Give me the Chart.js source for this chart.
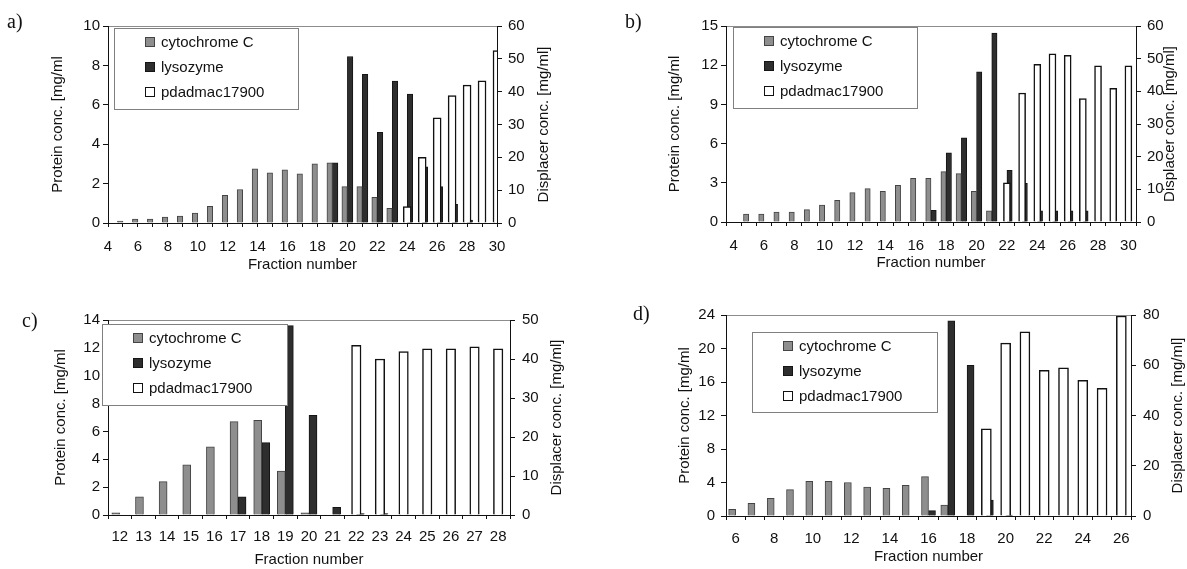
<!DOCTYPE html>
<html>
<head>
<meta charset="utf-8">
<script src="https://cdn.jsdelivr.net/npm/chart.js@4.4.1/dist/chart.umd.min.js"></script>
<style>
  html, body { margin: 0; padding: 0; background: #fff; }
  #wrap { position: relative; width: 1187px; height: 569px; overflow: hidden; }
  canvas { position: absolute; left: 0; top: 0; }
  .tag { position: absolute; font-family: "Liberation Serif", "Times New Roman", serif; font-size: 20px; line-height: 1; color: #111; }
</style>
</head>
<body>
<div id="wrap">
  <canvas id="chartA" width="1187" height="569"></canvas>
  <canvas id="chartB" width="1187" height="569"></canvas>
  <canvas id="chartC" width="1187" height="569"></canvas>
  <canvas id="chartD" width="1187" height="569"></canvas>
  <div class="tag" style="left:7px;top:11px">a)</div>
  <div class="tag" style="left:625px;top:11px">b)</div>
  <div class="tag" style="left:22px;top:310px">c)</div>
  <div class="tag" style="left:633px;top:303px">d)</div>
</div>
<script>
// panel a)
var fractionsA = [4, 5, 6, 7, 8, 9, 10, 11, 12, 13, 14, 15, 16, 17, 18, 19, 20, 21, 22, 23, 24, 25, 26, 27, 28, 29, 30]
var cytA = [null, 0.1, 0.2, 0.2, 0.3, 0.35, 0.5, 0.85, 1.4, 1.7, 2.75, 2.55, 2.7, 2.5, 3.0, 3.05, 1.85, 1.85, 1.3, 0.75, null, null, null, null, null, null, null]
var lysA = [null, null, null, null, null, null, null, null, null, null, null, null, null, null, null, 3.05, 8.45, 7.55, 4.6, 7.2, 6.55, 2.85, 1.85, 0.95, 0.15, null, null]
var pdaA = [null, null, null, null, null, null, null, null, null, null, null, null, null, null, null, null, null, null, null, null, 5, 20, 32, 38.8, 42, 43.3, 52.5]

// panel b)
var fractionsB = [4, 5, 6, 7, 8, 9, 10, 11, 12, 13, 14, 15, 16, 17, 18, 19, 20, 21, 22, 23, 24, 25, 26, 27, 28, 29, 30]
var cytB = [null, 0.6, 0.6, 0.75, 0.75, 0.95, 1.3, 1.65, 2.25, 2.55, 2.35, 2.8, 3.35, 3.35, 3.85, 3.7, 2.35, 0.85, null, null, null, null, null, null, null, null, null]
var lysB = [null, null, null, null, null, null, null, null, null, null, null, null, null, 0.9, 5.3, 6.45, 11.5, 14.45, 3.95, 2.95, 0.85, 0.85, 0.85, 0.85, null, null, null]
var pdaB = [null, null, null, null, null, null, null, null, null, null, null, null, null, null, null, null, null, null, 12, 39.5, 48.3, 51.5, 51, 37.8, 47.8, 40.9, 47.8]

// panel c)
var fractionsC = [12, 13, 14, 15, 16, 17, 18, 19, 20, 21, 22, 23, 24, 25, 26, 27, 28]
var cytC = [0.15, 1.3, 2.4, 3.6, 4.9, 6.7, 6.8, 3.15, 0.15, null, null, null, null, null, null, null, null]
var lysC = [null, null, null, null, null, 1.3, 5.2, 13.6, 7.15, 0.55, 0.1, 0.1, null, null, null, null, null]
var pdaC = [null, null, null, null, null, null, null, null, null, null, 43.5, 40, 41.9, 42.6, 42.6, 43.1, 42.6]

// panel d)
var fractionsD = [6, 7, 8, 9, 10, 11, 12, 13, 14, 15, 16, 17, 18, 19, 20, 21, 22, 23, 24, 25, 26]
var cytD = [0.8, 1.5, 2.1, 3.15, 4.15, 4.15, 4.0, 3.45, 3.3, 3.65, 4.7, 1.3, null, null, null, null, null, null, null, null, null]
var lysD = [null, null, null, null, null, null, null, null, null, null, 0.65, 23.3, 18.0, 1.9, 0.1, null, null, null, null, null, null]
var pdaD = [null, null, null, null, null, null, null, null, null, null, null, null, null, 34.7, 68.8, 73.3, 58, 59, 54, 50.8, 79.6]

Chart.defaults.font.family = '"Liberation Sans", Arial, sans-serif'
Chart.defaults.font.size = 15
Chart.defaults.color = '#111'

// plot frame, boxed legend inside the plot, right axis title reading upwards
const decor = {
  id: 'decor',
  beforeDraw(chart, args, o) {
    const a = chart.chartArea, ctx = chart.ctx
    ctx.save()
    ctx.strokeStyle = '#8c8c8c'
    ctx.lineWidth = 1
    ctx.strokeRect(Math.round(a.left) + 0.5, Math.round(a.top) + 0.5, Math.round(a.right - a.left), Math.round(a.bottom - a.top))
    ctx.restore()
  },
  afterDatasetsDraw(chart, args, o) {
    const ctx = chart.ctx, b = o.box
    ctx.save()
    ctx.fillStyle = '#fff'
    ctx.fillRect(b.x, b.y, b.w, b.h)
    ctx.strokeStyle = '#808080'
    ctx.lineWidth = 1
    ctx.strokeRect(b.x + 0.5, b.y + 0.5, b.w, b.h)
    ctx.font = '15px "Liberation Sans", Arial, sans-serif'
    ctx.textBaseline = 'middle'
    chart.data.datasets.forEach((ds, i) => {
      const cy = b.y + 14 + i * 25
      ctx.fillStyle = ds.backgroundColor
      ctx.fillRect(b.x + 31, cy - 5, 10, 10)
      ctx.strokeStyle = ds.borderColor
      ctx.strokeRect(b.x + 31.5, cy - 4.5, 9, 9)
      ctx.fillStyle = '#111'
      ctx.fillText(ds.label, b.x + 47, cy + 1)
    })
    ctx.restore()
  },
  afterDraw(chart, args, o) {
    const a = chart.chartArea, ctx = chart.ctx
    ctx.save()
    ctx.translate(o.titleX, (a.top + a.bottom) / 2)
    ctx.rotate(-Math.PI / 2)
    ctx.font = '15px "Liberation Sans", Arial, sans-serif'
    ctx.fillStyle = '#111'
    ctx.textAlign = 'center'
    ctx.textBaseline = 'middle'
    ctx.fillText('Displacer conc. [mg/ml]', 0, 0)
    ctx.restore()
  }
}

function panel(id, labels, cyt, lys, pda, o) {
  const evenOnly = function(v) {
    const l = this.getLabelForValue(v)
    return (o.every2 && l % 2 !== 0) ? '' : l
  }
  return new Chart(document.getElementById(id), {
    type: 'bar',
    data: {
      labels: labels,
      datasets: [
        { label: 'cytochrome C', data: cyt, yAxisID: 'y', backgroundColor: '#8e8e8e', borderColor: '#444444', borderWidth: 1, barThickness: o.bar, order: 1, clip: 0 },
        { label: 'lysozyme', data: lys, yAxisID: 'y', backgroundColor: '#2e2e2e', borderColor: '#151515', borderWidth: 1, barThickness: o.bar, order: 2, clip: 0 },
        { label: 'pdadmac17900', data: pda, yAxisID: 'y2', backgroundColor: '#ffffff', borderColor: '#111111', borderWidth: 1.5, barThickness: o.wide, grouped: false, order: 0, clip: 0 }
      ]
    },
    options: {
      responsive: false,
      animation: false,
      events: [],
      layout: { padding: o.pad },
      plugins: {
        legend: { display: false },
        tooltip: { enabled: false },
        decor: { box: o.box, titleX: o.titleX }
      },
      scales: {
        x: {
          type: 'category',
          offset: o.offset,
          grid: { offset: o.offset, drawOnChartArea: false, tickLength: 4, color: '#111' },
          border: { color: '#111' },
          ticks: { autoSkip: false, maxRotation: 0, padding: o.xPad, callback: evenOnly },
          title: { display: true, text: 'Fraction number', padding: { top: 0, bottom: o.xTitlePad } },
          afterFit: s => { s.height = o.xH }
        },
        y: {
          position: 'left',
          min: 0, max: o.yMax,
          ticks: { stepSize: o.yStep, padding: o.yPad },
          grid: { drawOnChartArea: false, tickLength: 5, color: '#111' },
          border: { color: '#111' },
          title: { display: true, text: 'Protein conc. [mg/ml', padding: { top: o.yTitlePad, bottom: 0 } },
          afterFit: s => { s.width = o.yW }
        },
        y2: {
          position: 'right',
          min: 0, max: o.y2Max,
          ticks: { stepSize: o.y2Step, padding: o.y2Pad },
          grid: { drawOnChartArea: false, tickLength: 5, color: '#111' },
          border: { color: '#111' },
          afterFit: s => { s.width = o.y2W }
        }
      }
    },
    plugins: [decor]
  })
}

panel('chartA', fractionsA, cytA, lysA, pdaA, {
  every2: true, offset: false, bar: 5.5, wide: 8,
  pad: { left: 40, right: 635, top: 26, bottom: 293 },
  yW: 68, yTitlePad: 9, yPad: 3, yMax: 10, yStep: 2,
  y2W: 55, y2Pad: 6, y2Max: 60, y2Step: 10, titleX: 544,
  xH: 53, xPad: 11, xTitlePad: 2,
  box: { x: 114, y: 28, w: 184, h: 81 }
})

panel('chartB', fractionsB, cytB, lysB, pdaB, {
  every2: true, offset: true, bar: 5.3, wide: 7,
  pad: { left: 660, right: 6, top: 26, bottom: 295 },
  yW: 66, yTitlePad: 6, yPad: 3, yMax: 15, yStep: 3,
  y2W: 45, y2Pad: 6, y2Max: 60, y2Step: 10, titleX: 1170,
  xH: 52, xPad: 11, xTitlePad: 2,
  box: { x: 733, y: 27, w: 184, h: 81 }
})

panel('chartC', fractionsC, cytC, lysC, pdaC, {
  every2: false, offset: true, bar: 8, wide: 9.5,
  pad: { left: 40, right: 622, top: 320, bottom: 0 },
  yW: 68, yTitlePad: 12, yPad: 3, yMax: 14, yStep: 2,
  y2W: 55, y2Pad: 7, y2Max: 50, y2Step: 10, titleX: 557,
  xH: 54, xPad: 9, xTitlePad: 0,
  box: { x: 102, y: 324, w: 185, h: 81 }
})

panel('chartD', fractionsD, cytD, lysD, pdaD, {
  every2: true, offset: true, bar: 7, wide: 10,
  pad: { left: 668, right: 4, top: 315, bottom: 1 },
  yW: 58, yTitlePad: 8, yPad: 6, yMax: 24, yStep: 4,
  y2W: 52, y2Pad: 7, y2Max: 80, y2Step: 20, titleX: 1178,
  xH: 52, xPad: 10, xTitlePad: 2,
  box: { x: 752, y: 332, w: 185, h: 80 }
})
</script>
</body>
</html>
